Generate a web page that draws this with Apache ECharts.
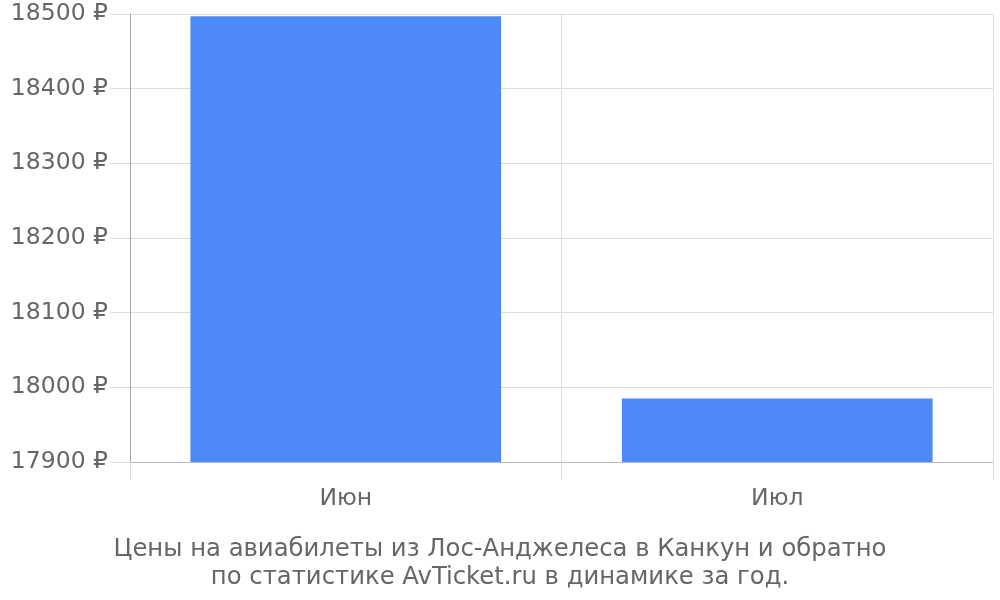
<!DOCTYPE html>
<html><head><meta charset="utf-8">
<script src="https://cdn.jsdelivr.net/npm/echarts@6/dist/echarts.min.js"></script>
<style>html,body{margin:0;padding:0;background:#fff}#c{width:1000px;height:600px}</style>
</head><body><div id="c"></div>
<script>
const categories = ['Июн', 'Июл'];
const prices = [18497, 17985];
const titleLines = ['Цены на авиабилеты из Лос-Анджелеса в Канкун и обратно', 'по статистике AvTicket.ru в динамике за год.'];

const chart = echarts.init(document.getElementById('c'));
chart.setOption({
  animation: false,
  textStyle: { fontFamily: 'DejaVu Sans' },
  title: {
    text: titleLines.join('\n'),
    left: 'center', top: 531,
    textStyle: { fontFamily: 'DejaVu Sans', fontSize: 24.3, fontWeight: 'normal', color: '#666', lineHeight: 28 }
  },
  grid: { left: 130, right: 7, top: 14, bottom: 138, containLabel: false },
  xAxis: {
    type: 'category', data: categories,
    axisLine: { lineStyle: { color: '#bbb' } },
    axisTick: { show: true, length: 18, lineStyle: { color: '#ddd' } },
    splitLine: { show: true, lineStyle: { color: '#ddd' } },
    axisLabel: { fontSize: 23.5, color: '#666', margin: 25, fontFamily: 'DejaVu Sans' }
  },
  yAxis: {
    type: 'value', min: 17900, max: 18500, interval: 100,
    axisLine: { show: true, lineStyle: { color: '#aaa' } },
    axisTick: { show: true, length: 20, lineStyle: { color: '#ddd' } },
    splitLine: { show: true, lineStyle: { color: '#ddd' } },
    axisLabel: { fontSize: 23.5, color: '#666', margin: 22, fontFamily: 'DejaVu Sans', formatter: v => v + ' ₽' }
  },
  series: [{
    type: 'bar', data: prices, barCategoryGap: '28%',
    itemStyle: { color: '#4d89f9' }
  }]
});
</script></body></html>
